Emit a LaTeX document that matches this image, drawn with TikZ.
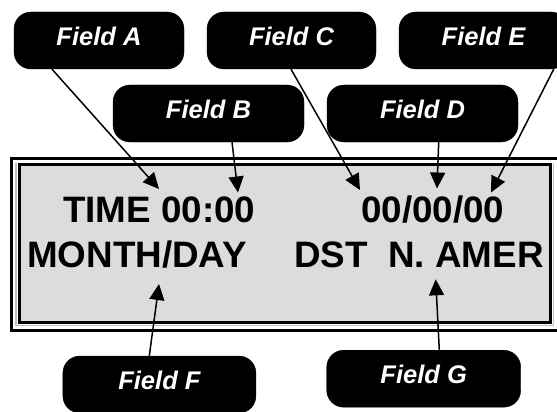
\documentclass[tikz,border=0pt]{standalone}
\usepackage{fontspec}
\setmainfont{Liberation Sans}
\usetikzlibrary{arrows.meta}
\definecolor{lcdgray}{RGB}{220,220,220}
\tikzset{
  fieldbox/.style={draw=black, fill=black, rounded corners=17pt, text=white,
    font=\fontsize{25.5}{25.5}\selectfont\bfseries\itshape, minimum height=57pt,
    inner sep=0pt, text depth=9pt},
  lcdtext/.style={font=\fontsize{36.8}{36.8}\selectfont\bfseries, inner sep=0pt, anchor=base west},
  pointer/.style={line width=1.5pt, -{Triangle[length=16pt,width=15pt]}}
}
\begin{document}
\begin{tikzpicture}[x=1pt,y=-1pt]
\useasboundingbox (0,0) rectangle (557,412);
\clip (0,0) rectangle (557,412);
% display frame
\draw[line width=3pt] (11,158) rectangle (566,330.5);
\draw[gray!50, line width=1.2pt] (16,163) -- (16,325.8) -- (553.8,325.8) -- (553.8,163);
\draw[line width=3pt, fill=lcdgray] (19,164.5) rectangle (550.5,322.8);
% display texts
\node[lcdtext] (time) at (63,222.5) {TIME 00:00};
\node[lcdtext] (date) at (361,222.5) {00/00/00};
\node[lcdtext] (month) at (27,267) {MONTH/DAY};
\node[lcdtext] (dst) at (294,267) {DST\ \ N. AMER};
% field boxes
\node[fieldbox, minimum width=170pt] (fA) at (99,40.5) {Field A};
\node[fieldbox, minimum width=169pt] (fC) at (291.5,40.5) {Field C};
\node[fieldbox, minimum width=169pt] (fE) at (483.5,40.5) {Field E};
\node[fieldbox, minimum width=191pt] (fB) at (208.5,113.5) {Field B};
\node[fieldbox, minimum width=191pt] (fD) at (422.5,113.5) {Field D};
\node[fieldbox, minimum width=193pt] (fF) at (159.4,384.5) {Field F};
\node[fieldbox, minimum width=194pt] (fG) at (423.7,378.7) {Field G};
% arrow tips
\coordinate (tA) at (159,189);
\coordinate (tB) at (238,192.5);
\coordinate (tC) at (360,190);
\coordinate (tD) at (437,188.5);
\coordinate (tE) at (491,192.5);
\coordinate (tF) at (159,284);
\coordinate (tG) at (435.7,279.3);
% connectors
\draw[pointer] ([xshift=-47pt]fA.south) -- (tA);
\draw[pointer] ([xshift=23.5pt]fB.south) -- (tB);
\draw[pointer] ([xshift=-0.5pt]fC.south) -- (tC);
\draw[pointer] ([xshift=16.2pt]fD.south) -- (tD);
\draw[pointer] ([xshift=70.2pt]fE.south) -- (tE);
\draw[pointer] ([xshift=-10.1pt]fF.north) -- (tF);
\draw[pointer] ([xshift=15.6pt]fG.north) -- (tG);
\end{tikzpicture}
\end{document}
